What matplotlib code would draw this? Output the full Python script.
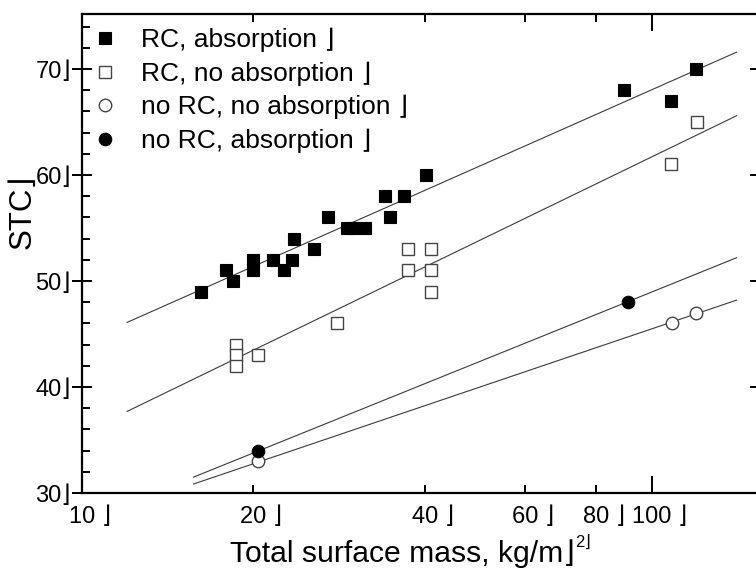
import matplotlib
matplotlib.use("Agg")
import matplotlib.pyplot as plt
from matplotlib.ticker import FixedLocator
from matplotlib.transforms import ScaledTranslation

plt.rcParams["font.family"] = ["Liberation Sans", "DejaVu Sans"]

# data (x = total surface mass, y = STC)
rc_abs_x = [16.2, 17.9, 18.4, 20.0, 20.0, 21.6, 22.6, 23.4, 23.6, 25.5, 27.0,
            29.2, 30.0, 31.4, 34.0, 34.7, 36.8, 40.2, 89.5, 108, 119.5]
rc_abs_y = [49, 51, 50, 52, 51, 52, 51, 52, 54, 53, 56,
            55, 55, 55, 58, 56, 58, 60, 68, 67, 70]

rc_noabs_x = [18.6, 18.6, 18.6, 20.4, 28.0, 37.3, 37.3, 41.0, 41.0, 41.0, 108, 120]
rc_noabs_y = [44, 43, 42, 43, 46, 53, 51, 53, 51, 49, 61, 65]

norc_noabs_x = [20.4, 108.5, 119.7]
norc_noabs_y = [33, 46, 47]

norc_abs_x = [20.4, 91.0]
norc_abs_y = [34, 48]

# regression lines (end points)
fit_rc_abs_x, fit_rc_abs_y = [12.0, 141], [46.1, 71.6]
fit_rc_noabs_x, fit_rc_noabs_y = [12.0, 141], [37.7, 65.6]
fit_norc_abs_x, fit_norc_abs_y = [15.7, 141], [31.5, 52.2]
fit_norc_noabs_x, fit_norc_noabs_y = [15.7, 141], [30.85, 48.2]

labels = ["RC, absorption ⌋", "RC, no absorption ⌋",
          "no RC, no absorption ⌋", "no RC, absorption ⌋"]

x_major = [10, 100]
x_major_labels = ["10", "100"]
x_minor = [20, 40, 60, 80]
x_minor_labels = ["20", "40", "60", "80"]
y_major = [30, 40, 50, 60, 70]
y_major_labels = ["30⌋", "40⌋", "50⌋", "60⌋", "70⌋"]
y_minor = list(range(30, 76, 2))

fig = plt.figure(figsize=(7.56, 5.69), dpi=100)
ax = fig.add_axes([82 / 756, 1 - 493 / 569, (760 - 82) / 756, (493 - 14) / 569])

lc = "#3a3a3a"
for fx, fy in [(fit_rc_abs_x, fit_rc_abs_y), (fit_rc_noabs_x, fit_rc_noabs_y),
               (fit_norc_abs_x, fit_norc_abs_y), (fit_norc_noabs_x, fit_norc_noabs_y)]:
    ax.plot(fx, fy, color=lc, lw=0.8, zorder=1)

ax.plot(rc_abs_x, rc_abs_y, ls="none", marker="s", ms=8.4,
        mfc="black", mec="black", mew=0.8, label=labels[0], zorder=3)
ax.plot(rc_noabs_x, rc_noabs_y, ls="none", marker="s", ms=8.4,
        mfc="white", mec="#444444", mew=1.0, label=labels[1], zorder=3)
ax.plot(norc_noabs_x, norc_noabs_y, ls="none", marker="o", ms=9,
        mfc="white", mec="#444444", mew=1.0, label=labels[2], zorder=3)
ax.plot(norc_abs_x, norc_abs_y, ls="none", marker="o", ms=9,
        mfc="black", mec="black", mew=0.8, label=labels[3], zorder=3)

ax.set_xscale("log")
ax.set_xlim(10, 155)
ax.set_ylim(30, 75.2)

ax.xaxis.set_major_locator(FixedLocator(x_major))
ax.xaxis.set_minor_locator(FixedLocator(x_minor))
ax.set_xticks(x_major, labels=[s + " ⌋" for s in x_major_labels])
ax.set_xticks(x_minor, labels=[s + " ⌋" for s in x_minor_labels], minor=True)
ax.set_yticks(y_major, labels=y_major_labels)
ax.set_yticks(y_minor, minor=True)

for s in ax.spines.values():
    s.set_linewidth(1.6)

ax.tick_params(axis="y", which="major", direction="inout", length=14, width=1.4,
               left=True, right=True, labelsize=17, pad=1)
ax.tick_params(axis="y", which="minor", direction="in", length=6, width=1.4,
               left=True, right=False)
ax.tick_params(axis="x", which="major", direction="in", length=12, width=1.4,
               top=True, bottom=True, labelsize=17, pad=9)
ax.tick_params(axis="x", which="minor", direction="in", length=6, width=1.4,
               top=True, bottom=True, labelsize=17, pad=9)

# numbers sit centred on their tick, the corner mark trails after them
digit_px = 0.556 * 17 * 100 / 72
for tick, txt in zip(ax.xaxis.get_major_ticks() + ax.xaxis.get_minor_ticks(),
                     x_major_labels + x_minor_labels):
    shift = -len(txt) * digit_px / 2 / 100
    tick.label1.set_horizontalalignment("left")
    tick.label1.set_transform(tick.label1.get_transform()
                              + ScaledTranslation(shift, 0, fig.dpi_scale_trans))

ax.set_xlabel("Total surface mass, kg/m⌋", fontsize=21.7, va="center", ha="left")
ax.xaxis.set_label_coords(0.218, -0.127)
# raised "2" of m², kept as its own text
ax.annotate("2⌋", xy=(1.0, 0.6), xycoords=ax.xaxis.label, xytext=(0.5, 0),
            textcoords="offset points", fontsize=12, ha="left", va="bottom")
ax.set_ylabel("STC⌋", fontsize=22.5, va="center")
ax.yaxis.set_label_coords(-0.087, 0.587)

ax.legend(loc="upper left", frameon=False, fontsize=19, handlelength=1.0,
          handletextpad=0.86, borderpad=0.2, borderaxespad=0.0,
          bbox_to_anchor=(0.0066, 0.982), labelspacing=0.35, markerscale=1.0)

fig.savefig("out.png", dpi=100)
